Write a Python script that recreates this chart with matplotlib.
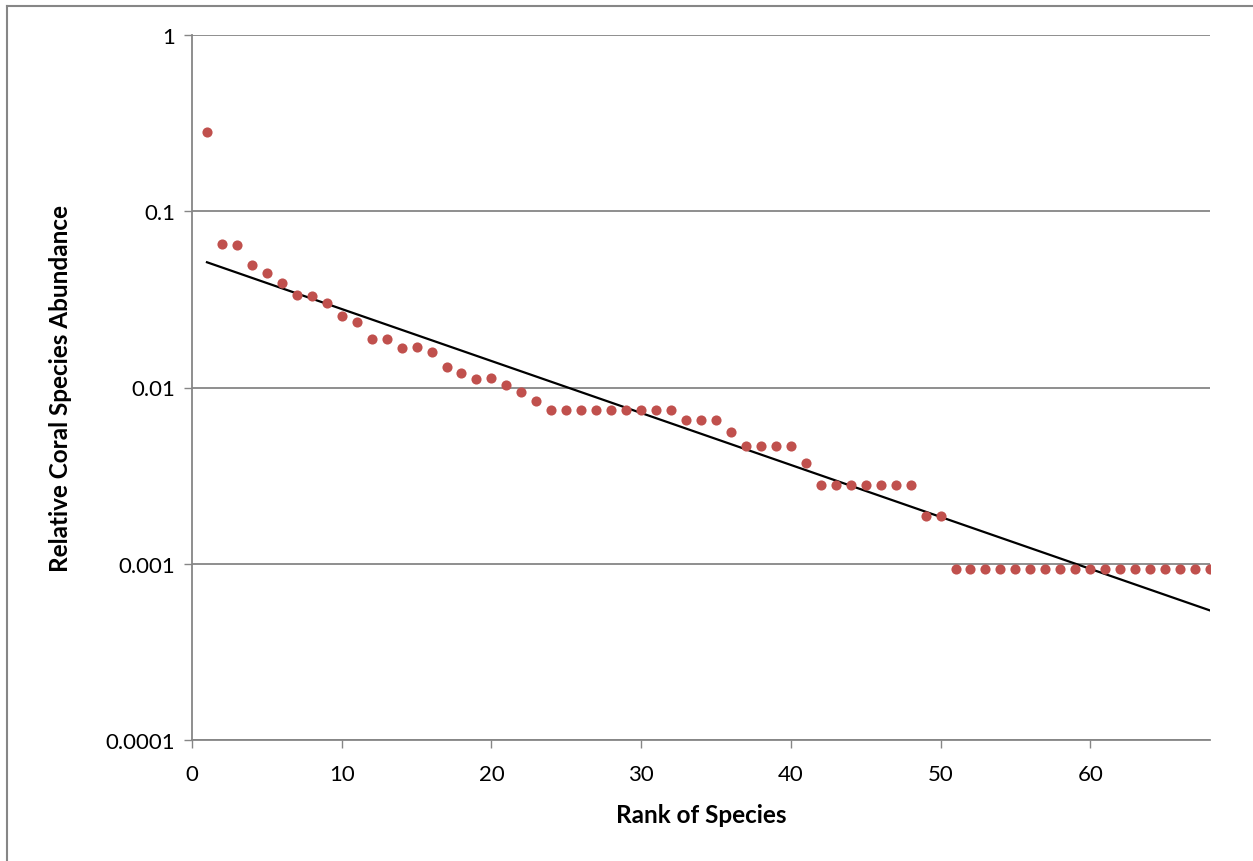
import numpy as np
import matplotlib
matplotlib.use("Agg")
import matplotlib.pyplot as plt
from matplotlib.lines import Line2D
from matplotlib.ticker import FixedLocator, FixedFormatter, NullLocator

plt.rcParams['font.family'] = ['Lato', 'DejaVu Sans']

# Rank-abundance data: relative abundance of each coral species by rank
rank = np.arange(1, 69)
abundance = [
    0.282, 0.0652, 0.0645, 0.0494, 0.0448, 0.0392, 0.0334, 0.0330, 0.0302, 0.0254,
    0.0235, 0.0188, 0.0188, 0.0168, 0.0169, 0.0160, 0.0131, 0.0121, 0.0112, 0.0113,
    0.0103, 0.0094, 0.0084, 0.00746, 0.00746, 0.00746, 0.00746, 0.00746, 0.00746, 0.00746,
    0.00746, 0.00746, 0.00653, 0.00653, 0.00653, 0.0056, 0.00466, 0.00466, 0.00466, 0.00466,
    0.00373, 0.0028, 0.0028, 0.0028, 0.0028, 0.0028, 0.0028, 0.0028, 0.00187, 0.00187,
] + [0.000933] * 18

y_ticks = [0.0001, 0.001, 0.01, 0.1, 1]
y_labels = ["0.0001", "0.001", "0.01", "0.1", "1"]
x_ticks = [0, 10, 20, 30, 40, 50, 60]

W, H = 1253, 862
fig = plt.figure(figsize=(W / 100, H / 100), dpi=100)
ax = fig.add_axes([192 / W, 1 - 741 / H, (1210 - 192) / W, (741 - 36) / H])

grey = "#868686"
red = "#C0504D"

ax.set_yscale("log")
ax.set_xlim(0, 68)
ax.set_ylim(0.0001, 1)

# exponential trendline fitted to the points
coef = np.polyfit(rank, np.log(abundance), 1)
xt = np.array([1, 68])
ax.plot(xt, np.exp(np.polyval(coef, xt)), color="black", lw=1.6, zorder=3)

ax.plot(rank, abundance, linestyle="none", marker="o", markersize=7.3,
        color=red, markeredgewidth=0, zorder=4)

ax.yaxis.set_major_locator(FixedLocator(y_ticks))
ax.yaxis.set_major_formatter(FixedFormatter(y_labels))
ax.yaxis.set_minor_locator(NullLocator())
ax.set_xticks(x_ticks)
ax.set_xticklabels([str(v) for v in x_ticks])

ax.grid(axis="y", color=grey, lw=1.3)
ax.set_axisbelow(True)
for s in ("top", "right"):
    ax.spines[s].set_visible(False)
for s in ("left", "bottom"):
    ax.spines[s].set_color(grey)
    ax.spines[s].set_linewidth(1.3)

ax.tick_params(axis="both", which="major", direction="out", length=6, width=1.0,
               color=grey, labelsize=16, labelcolor="black")
ax.tick_params(axis="y", pad=6)
ax.tick_params(axis="x", pad=11)

ax.set_xlabel("Rank of Species", fontsize=17.5, fontweight="bold", labelpad=14)
ax.set_ylabel("Relative Coral Species Abundance", fontsize=17.5, fontweight="bold", labelpad=24)

# chart-area border
fig.add_artist(Line2D([7 / W, 7 / W], [0, 1 - 7 / H], transform=fig.transFigure,
                      color=grey, lw=1.5))
fig.add_artist(Line2D([7 / W, 1], [1 - 7 / H, 1 - 7 / H], transform=fig.transFigure,
                      color=grey, lw=1.5))

fig.savefig("out.png", dpi=100, facecolor="white")
